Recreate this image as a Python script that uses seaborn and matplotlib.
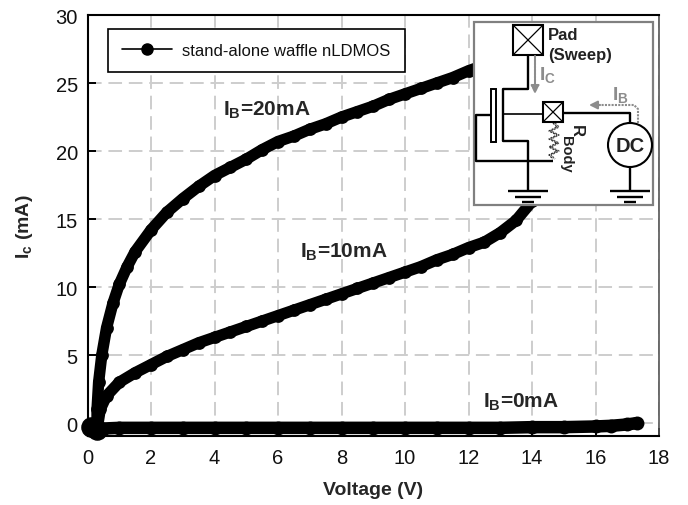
import numpy as np
import pandas as pd
import matplotlib
matplotlib.use("Agg")
import matplotlib.pyplot as plt
from matplotlib.lines import Line2D
from matplotlib.patches import Rectangle, Circle
import seaborn as sns

v_20 = [0.3, 0.3, 0.35, 0.45, 0.6, 0.8, 1.0, 1.25, 1.5, 2, 2.5, 3, 3.5, 4, 4.5, 5, 5.5, 6, 6.5,
        7, 7.5, 8, 8.5, 9, 9.5, 10, 10.5, 11, 11.5, 12, 12.6]
i_20 = [-0.5, 1.0, 3.0, 5.0, 7.0, 8.8, 10.2, 11.5, 12.6, 14.2, 15.5, 16.5, 17.4, 18.2, 18.8, 19.4, 20.1, 20.7, 21.1,
        21.6, 22.0, 22.5, 22.9, 23.3, 23.8, 24.2, 24.6, 25.0, 25.4, 25.9, 26.4]
v_10 = [0.3, 0.4, 0.6, 1.0, 1.5, 2, 2.5, 3, 3.5, 4, 4.5, 5, 5.5, 6, 6.5, 7, 7.5, 8, 8.5, 9, 9.5,
        10, 10.5, 11, 11.5, 12, 12.5, 13, 13.5, 14]
i_10 = [-0.5, 1.0, 2.0, 3.0, 3.7, 4.3, 4.9, 5.4, 5.9, 6.3, 6.7, 7.1, 7.5, 7.9, 8.3, 8.7, 9.1, 9.5, 9.9, 10.3, 10.7,
        11.1, 11.5, 12.0, 12.4, 12.9, 13.3, 14.0, 14.9, 16.3]
v_0 = [0.05, 0.3, 0.5, 1, 2, 3, 4, 5, 6, 7, 8, 9, 10, 11, 12, 13, 14, 15, 16, 16.5, 17, 17.3]
i_0 = [-0.3, -0.6, -0.4, -0.35, -0.35, -0.35, -0.35, -0.35, -0.35, -0.35, -0.35, -0.35, -0.35,
       -0.35, -0.35, -0.35, -0.3, -0.3, -0.25, -0.2, -0.1, 0.0]
x_ticks = [0, 2, 4, 6, 8, 10, 12, 14, 16, 18]
y_ticks = [0, 5, 10, 15, 20, 25, 30]

sns.set_theme(style="white")
plt.rcParams["font.family"] = ["Liberation Sans", "DejaVu Sans"]
plt.rcParams["mathtext.fontset"] = "custom"
plt.rcParams["mathtext.rm"] = "Liberation Sans"
plt.rcParams["mathtext.bf"] = "Liberation Sans:bold"
plt.rcParams["mathtext.default"] = "regular"

W, H = 688, 506
fig = plt.figure(figsize=(W / 100, H / 100), dpi=100)
ax = fig.add_axes([87.5 / W, 1 - 437 / H, (659 - 87.5) / W, (437 - 16) / H])

frames = []
for v, i, name in [(v_20, i_20, "20"), (v_10, i_10, "10"), (v_0, i_0, "0")]:
    frames.append(pd.DataFrame({"voltage": v, "current": i, "bias": name}))
data = pd.concat(frames)

for name, lw in [("20", 8.2), ("10", 8.2), ("0", 9.0)]:
    sns.lineplot(data=data[data["bias"] == name], x="voltage", y="current", ax=ax, color="black",
                 linewidth=lw, marker="o", markersize=lw + 1, markeredgewidth=0,
                 sort=False, estimator=None, solid_capstyle="round", legend=False, zorder=3, clip_on=False)
ax.scatter([0.3, 0.1], [-0.5, -0.3], s=190, color="black", zorder=4, clip_on=False)

ax.set_xlim(0, 18)
ax.set_ylim(-0.95, 30)
ax.set_xticks(x_ticks)
ax.set_yticks(y_ticks)
ax.tick_params(axis="both", direction="in", length=6, width=1.4, color="black", labelsize=14.5,
               labelcolor="#111111", bottom=True, left=True)
ax.tick_params(axis="x", pad=9)
ax.tick_params(axis="y", pad=7)
ax.grid(True, color="#cdcdcd", linewidth=1.4, linestyle=(0, (7, 3.5)), zorder=0)
ax.set_axisbelow(True)
ax.set_xlabel("Voltage (V)", fontsize=14, fontweight="bold", labelpad=10)
ax.set_ylabel(r"I$_{\mathbf{c}}$ (mA)", fontsize=14, fontweight="bold", labelpad=15)
for side in ["left", "bottom", "top"]:
    ax.spines[side].set_color("black")
    ax.spines[side].set_linewidth(1.5)
ax.spines["right"].set_color("#555555")
ax.spines["right"].set_linewidth(1.2)

ax.text(4.27, 23.1, r"I$_{\mathbf{B}}$=20mA", fontsize=15, fontweight="bold", va="center")
ax.text(6.7, 12.6, r"I$_{\mathbf{B}}$=10mA", fontsize=15, fontweight="bold", va="center")
ax.text(12.45, 1.6, r"I$_{\mathbf{B}}$=0mA", fontsize=15, fontweight="bold", va="center")

handle = Line2D([], [], color="black", linewidth=1.2, marker="o", markersize=8)
leg = ax.legend([handle], ["stand-alone waffle nLDMOS"], loc="upper left", fontsize=12,
                bbox_to_anchor=((108 - 87.5) / (659 - 87.5), 1 - (30 - 16) / (437 - 16)),
                borderaxespad=0, fancybox=False, framealpha=1, edgecolor="black", labelcolor="#111111",
                borderpad=0.85, handlelength=3, labelspacing=0, handletextpad=0.6)
leg.get_frame().set_linewidth(1.2)
leg.set_zorder(6)

# circuit inset, drawn in picture pixels
ins = fig.add_axes([0, 0, 1, 1], zorder=10)
ins.set_xlim(0, W)
ins.set_ylim(H, 0)
ins.axis("off")
ins.patch.set_alpha(0)
ins.add_patch(Rectangle((474, 23), 179, 183, facecolor="white", edgecolor="#808080", linewidth=1.6))


def wire(xs, ys, lw=1.7, color="black", **kw):
    ins.plot(xs, ys, color=color, linewidth=lw, solid_capstyle="butt", **kw)


def pad_box(x0, y0, size):
    ins.add_patch(Rectangle((x0, y0), size, size, facecolor="white", edgecolor="black", linewidth=1.5, zorder=3))
    wire([x0, x0 + size], [y0, y0 + size], lw=0.9, zorder=4)
    wire([x0, x0 + size], [y0 + size, y0], lw=0.9, zorder=4)


wire([528, 528, 503, 503, 528, 528], [56, 90, 90, 142, 142, 192])
ins.add_patch(Rectangle((491, 90), 5, 53, facecolor="white", edgecolor="black", linewidth=1.4))
wire([503, 543], [115, 115], lw=1.2)
wire([491, 476, 476, 553], [116, 116, 162, 162])
wire([563, 630, 630], [114, 114, 124])
wire([630, 630], [168, 192])
ins.add_patch(Circle((630, 146), 22, facecolor="white", edgecolor="black", linewidth=1.5))
ins.text(630, 146, "DC", fontsize=14.5, fontweight="bold", ha="center", va="center", color="#222222")
pad_box(513, 26, 30)
pad_box(543, 103, 20)

for cx in [528, 630]:
    wire([cx - 20, cx + 20], [192, 192])
    wire([cx - 13, cx + 13], [197.5, 197.5])
    wire([cx - 6, cx + 6], [203, 203])

# body resistor
zig_y = [124, 128, 132, 136, 140, 144, 148, 152, 156, 160]
zig_x = [553, 557, 549, 557, 549, 557, 549, 557, 549, 553]
wire(zig_x, zig_y, lw=1.0, color="#333333", linestyle=(0, (1.5, 0.8)))
wire([c + 2 for c in zig_x], zig_y, lw=1.0, color="#555555", linestyle=(0, (1.5, 0.8)))

# current arrows
gray = "#8c8c8c"
ins.annotate("", xy=(535, 95), xytext=(535, 57),
             arrowprops=dict(arrowstyle="-|>", color=gray, linewidth=1.5, linestyle=(0, (1, 0.6)), shrinkA=0, shrinkB=0))
wire([638, 638, 634, 596], [124, 110, 106, 106], lw=1.5, color=gray, linestyle=(0, (1, 0.6)))
ins.annotate("", xy=(589, 106), xytext=(600, 106),
             arrowprops=dict(arrowstyle="-|>", color=gray, linewidth=1.5, shrinkA=0, shrinkB=0))

ins.text(548, 35, "Pad", fontsize=12, fontweight="bold", va="center", color="#222222")
ins.text(548, 55, "(Sweep)", fontsize=12, fontweight="bold", va="center", color="#222222")
ins.text(539, 75, r"I$_{\mathbf{C}}$", fontsize=14, fontweight="bold", va="center", color=gray)
ins.text(612, 95, r"I$_{\mathbf{B}}$", fontsize=14, fontweight="bold", va="center", color=gray)
ins.text(576, 131, "R", fontsize=12, fontweight="bold", rotation=270, ha="center", va="center", color="#222222")
ins.text(566, 154, "Body", fontsize=10.5, fontweight="bold", rotation=270, ha="center", va="center", color="#222222")

fig.savefig("out.png", dpi=100)
